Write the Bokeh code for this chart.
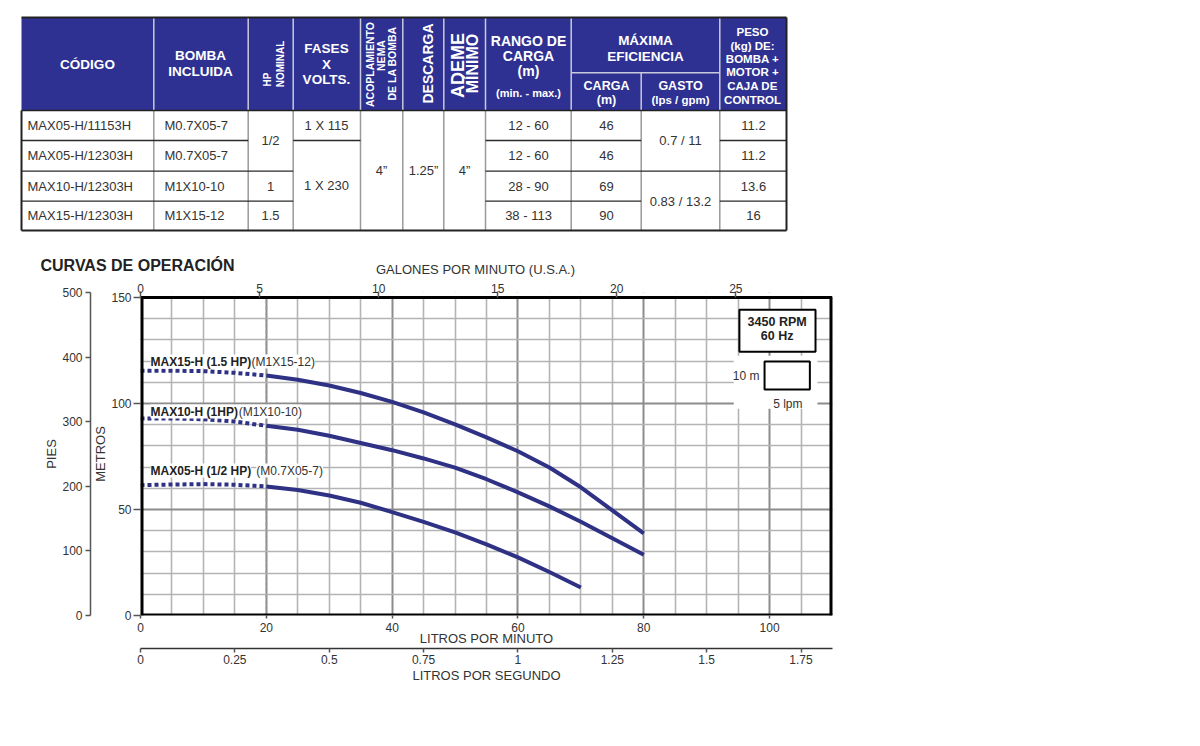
import math
from bokeh.plotting import figure
from bokeh.models import (Range1d, LinearAxis, FixedTicker, Label, BoxAnnotation,
                          NumeralTickFormatter)
from bokeh.embed import file_html
from bokeh.resources import INLINE
from bokeh.core.properties import value

FONT = "Liberation Sans"
NAVY = "#2e3192"
CURVE = "#2e3184"
TXT = "#333333"

# ---------------- table data ----------------
codes = ["MAX05-H/11153H", "MAX05-H/12303H", "MAX10-H/12303H", "MAX15-H/12303H"]
bombas = ["M0.7X05-7", "M0.7X05-7", "M1X10-10", "M1X15-12"]
hp_vals = ["1/2", "1", "1.5"]
fases = ["1 X 115", "1 X 230"]
acople = "4\u201d"
descarga = "1.25\u201d"
ademe = "4\u201d"
rango = ["12 - 60", "12 - 60", "28 - 90", "38 - 113"]
carga = ["46", "46", "69", "90"]
gasto = ["0.7 / 11", "0.83 / 13.2"]
peso = ["11.2", "11.2", "13.6", "16"]

hdr_flat = ["C\u00d3DIGO", "BOMBA", "INCLUIDA", "FASES", "X", "VOLTS.",
            "RANGO DE", "CARGA", "(m)", "(min. - max.)", "M\u00c1XIMA", "EFICIENCIA",
            "CARGA", "(m)", "GASTO", "(lps / gpm)",
            "PESO", "(kg) DE:", "BOMBA +", "MOTOR +", "CAJA DE", "CONTROL"]
hdr_rot = ["HP", "NOMINAL", "ACOPLAMIENTO", "NEMA", "DE LA BOMBA", "DESCARGA",
           "ADEME", "M\u00cdNIMO"]

# ---------------- chart data ----------------
lpm_dot = [0, 5, 10, 15, 20]
max15_dot = [115.5, 115.5, 115.3, 114.5, 113.2]
max10_dot = [93.0, 93.0, 92.6, 91.5, 89.5]
max05_dot = [61.5, 61.8, 62.0, 61.7, 60.9]

lpm15 = [20, 25, 30, 35, 40, 45, 50, 55, 60, 65, 70, 75, 80]
max15 = [113.2, 111.2, 108.5, 105.0, 100.8, 95.8, 90.2, 84.0, 77.5, 69.8, 60.5, 49.6, 38.8]
lpm10 = [20, 25, 30, 35, 40, 45, 50, 55, 60, 65, 70, 75, 80]
max10 = [89.5, 87.6, 84.8, 81.4, 78.0, 74.1, 69.8, 64.3, 58.1, 51.5, 44.2, 36.4, 28.7]
lpm05 = [20, 25, 30, 35, 40, 45, 50, 55, 60, 65, 70]
max05 = [60.9, 59.2, 56.6, 53.2, 48.8, 44.2, 39.2, 33.6, 27.4, 20.5, 13.2]

curve_names = ["MAX15-H (1.5 HP)", "MAX10-H (1HP)", "MAX05-H (1/2 HP)"]
curve_models = ["(M1X15-12)", "(M1X10-10)", "(M0.7X05-7)"]

lpm_ticks = [0, 20, 40, 60, 80, 100]
m_ticks = [0, 50, 100, 150]
gpm_ticks = [0, 5, 10, 15, 20, 25]
ft_ticks = [0, 100, 200, 300, 400, 500]
lps_ticks = [0, 0.25, 0.5, 0.75, 1, 1.25, 1.5, 1.75]

GPM = 3.78541
FT = 3.28084
XMAX = 110
YMAX = 150
YTOP = 500 / FT

# ================= TABLE FIGURE (page pixel coordinates) =================
TW, TH = 840, 278
tf = figure(width=TW, height=TH, x_range=Range1d(0, TW), y_range=Range1d(TH, 0),
            x_axis_location=None, y_axis_location=None, toolbar_location=None,
            output_backend="svg", min_border=0, outline_line_color=None)
tf.grid.visible = False

L, R, T, HB, B = 21, 786, 17, 110, 230
cols = [21, 153.3, 247.7, 292.7, 360, 402.3, 443.3, 485, 570.7, 640.7, 719.3, 786]

tf.quad(left=L, right=R, top=T, bottom=HB, fill_color=NAVY, line_color=None)
hx = cols[1:-1]
hx0 = [x for x in hx if x != 640.7]
tf.segment(x0=hx0, y0=[T] * len(hx0), x1=hx0, y1=[HB] * len(hx0), line_color="#c9cadb", line_width=1.5)
tf.segment(x0=[640.7, 570.7], y0=[72.3, 72.3], x1=[640.7, 719.3], y1=[HB, 72.3],
           line_color="#c9cadb", line_width=1.5)
tf.segment(x0=hx, y0=[HB] * len(hx), x1=hx, y1=[B] * len(hx), line_color="#9a9a9a", line_width=1.5)
seg_x0 = [21, 292.7, 485, 719.3, 21, 485, 21, 485, 719.3]
seg_x1 = [247.7, 360, 640.7, 786, 292.7, 786, 292.7, 640.7, 786]
seg_y = [140, 140, 140, 140, 170.7, 170.7, 200.7, 200.7, 200.7]
tf.segment(x0=seg_x0, y0=seg_y, x1=seg_x1, y1=seg_y, line_color="#2a2a2a", line_width=1.3)
tf.segment(x0=[L, L, R, L], y0=[T, B, T, HB], x1=[R, R, R, L], y1=[T, B, B, B],
           line_color="#222222", line_width=2)
tf.segment(x0=[L], y0=[HB], x1=[R], y1=[HB], line_color="#222222", line_width=1.5)

hf_x = [87, 200, 200, 326, 326, 326, 528, 528, 528, 528, 645, 645, 606, 606, 680, 680,
        752, 752, 752, 752, 752, 752]
hf_y = [64, 55, 71, 48, 63.5, 79, 40, 55, 70, 92, 40, 56, 85, 99, 85, 99,
        31, 45, 58, 71.5, 85, 99]
hf_s = ["13.5px", "13.5px", "13.5px", "13.5px", "13.5px", "13.5px", "14px", "14px", "14px", "11px",
        "13.5px", "13.5px", "12.5px", "12.5px", "12.5px", "11.5px",
        "11.5px", "11.5px", "11.5px", "11.5px", "11.5px", "11.5px"]
tf.text(x=hf_x, y=hf_y, text=hdr_flat, text_font_size=hf_s, text_color="white",
        text_font=value(FONT), text_font_style="bold", text_align="center",
        text_baseline="middle")
hr_x = [267, 280, 369, 380, 391, 427, 457, 472]
hr_y = [79, 63.5, 64, 55, 63, 63, 65, 63]
hr_s = ["10px", "10px", "10.5px", "10.5px", "10.5px", "14px", "18px", "16px"]
tf.text(x=hr_x, y=hr_y, text=hdr_rot, text_font_size=hr_s, text_color="white",
        text_font=value(FONT), text_font_style="bold", text_align="center",
        text_baseline="middle", angle=math.pi / 2)

rc = [125, 155.3, 185.7, 215.3]
tf.text(x=[27] * 4, y=rc, text=codes, text_font=value(FONT), text_font_size="13px",
        text_color=TXT, text_align="left", text_baseline="middle")
tf.text(x=[164] * 4, y=rc, text=bombas, text_font=value(FONT), text_font_size="13px",
        text_color=TXT, text_align="left", text_baseline="middle")
cx = [270, 270, 270, 326, 326, 381, 423, 464] + [528] * 4 + [606] * 4 + [680, 680] + [753] * 4
cy = [140, 185.7, 215.3, 125, 185, 170, 170, 170] + rc + rc + [140, 200.7] + rc
ct = hp_vals + fases + [acople, descarga, ademe] + rango + carga + gasto + peso
tf.text(x=cx, y=cy, text=ct, text_font=value(FONT), text_font_size="13px",
        text_color=TXT, text_align="center", text_baseline="middle")

# chart heading + top-axis title (sit just above the chart figure)
tf.text(x=[40], y=[264.5], text=["CURVAS DE OPERACI\u00d3N"], text_font=value(FONT),
        text_font_size="16px", text_font_style="bold", text_color="#222222",
        text_align="left", text_baseline="middle")
tf.text(x=[475], y=[269], text=["GALONES POR MINUTO (U.S.A.)"], text_font=value(FONT),
        text_font_size="13px", text_color=TXT, text_align="center", text_baseline="middle")

# ================= CHART FIGURE =================
p = figure(frame_width=692, frame_height=323, x_range=Range1d(0, XMAX), y_range=Range1d(0, YTOP),
           min_border_left=140, min_border_top=14, min_border_bottom=85, min_border_right=20,
           toolbar_location=None, output_backend="svg", outline_line_color=None)

p.extra_x_ranges = {"gpm": Range1d(0, XMAX / GPM), "lps": Range1d(0, XMAX / 60)}
p.extra_y_ranges = {"ft": Range1d(0, YTOP * FT)}

def style_axis(ax, label, tick_out, std, lab_std, tick_in=0):
    ax.axis_label = label
    ax.axis_label_text_font = FONT
    ax.axis_label_text_font_size = "13px"
    ax.axis_label_text_font_style = "normal"
    ax.axis_label_text_color = TXT
    ax.axis_label_standoff = lab_std
    ax.major_label_text_font = FONT
    ax.major_label_text_font_size = "12px"
    ax.major_label_text_color = TXT
    ax.major_label_standoff = std
    ax.major_tick_in = tick_in
    ax.major_tick_out = tick_out
    ax.major_tick_line_color = "#555555"
    ax.major_tick_line_width = 1.5
    ax.minor_tick_line_color = None

xa = p.xaxis[0]
xa.ticker = FixedTicker(ticks=lpm_ticks)
style_axis(xa, "LITROS POR MINUTO", 3, 4, -4)
xa.axis_line_color = None

ya = p.yaxis[0]
ya.ticker = FixedTicker(ticks=m_ticks)
style_axis(ya, "METROS", 7, 2, 0)
ya.axis_line_color = None

fa = LinearAxis(y_range_name="ft", ticker=FixedTicker(ticks=ft_ticks))
style_axis(fa, "PIES", 5, 3, 0)
fa.axis_line_color = "#555555"
fa.axis_line_width = 1.5
p.add_layout(fa, "left")

ga = LinearAxis(x_range_name="gpm", ticker=FixedTicker(ticks=gpm_ticks))
style_axis(ga, None, 1, -1, 0, tick_in=5)
ga.axis_line_color = None
p.add_layout(ga, "above")

sa = LinearAxis(x_range_name="lps", ticker=FixedTicker(ticks=lps_ticks),
                formatter=NumeralTickFormatter(format="0.[00]"))
style_axis(sa, "LITROS POR SEGUNDO", 4, 2, 1)
sa.axis_line_color = "#333333"
sa.axis_line_width = 1.5
p.add_layout(sa, "below")

p.xgrid.ticker = FixedTicker(ticks=[20, 40, 60, 80, 100],
                             minor_ticks=[v for v in range(5, XMAX, 5) if v % 20])
p.ygrid.ticker = FixedTicker(ticks=[50, 100],
                             minor_ticks=[v for v in range(10, YMAX, 10) if v % 50])
for g in (p.xgrid, p.ygrid):
    g.grid_line_color = "#8c8c8c"
    g.grid_line_width = 2
    g.minor_grid_line_color = "#b4b4b4"
    g.minor_grid_line_width = 1.6

# hide strip above 150 m and draw the frame border
p.quad(left=0, right=XMAX, bottom=YMAX, top=YTOP, fill_color="white", line_color=None)
p.segment(x0=[20], y0=[0], x1=[20], y1=[YMAX], line_color="#999999", line_dash="3 3", line_width=1.5)

for xd, yd, xs, ys in [(lpm_dot, max15_dot, lpm15, max15),
                       (lpm_dot, max10_dot, lpm10, max10),
                       (lpm_dot, max05_dot, lpm05, max05)]:
    p.line(xd, yd, line_color=CURVE, line_width=4, line_dash="4 3")
    p.line(xs, ys, line_color=CURVE, line_width=4, line_join="round")

p.segment(x0=[0, XMAX], y0=[0, 0], x1=[0, XMAX], y1=[YMAX, YMAX], line_color="black", line_width=6)
p.segment(x0=[0], y0=[0], x1=[XMAX], y1=[0], line_color="black", line_width=4)
p.segment(x0=[0], y0=[YMAX], x1=[XMAX], y1=[YMAX], line_color="black", line_width=3)

lab_y = [119.8, 96.2, 68.4]
mod_x = [17.65, 15.6, 18.4]
for name, mod, yy, mx in zip(curve_names, curve_models, lab_y, mod_x):
    p.add_layout(Label(x=1.6, y=yy, text=name, text_font=FONT, text_font_size="12px",
                       text_font_style="bold", text_color="#222222", text_baseline="middle",
                       background_fill_color="white"))
    p.add_layout(Label(x=mx, y=yy, text=mod, text_font=FONT, text_font_size="12px",
                       text_color=TXT, text_baseline="middle",
                       background_fill_color="white"))

p.add_layout(BoxAnnotation(left=94.3, right=107.6, bottom=97.6, top=122.6,
                           fill_color="white", fill_alpha=1, line_color=None))
p.add_layout(BoxAnnotation(left=95.2, right=107.3, bottom=124.5, top=144.3,
                           fill_color="white", fill_alpha=1, line_color="black",
                           line_alpha=1, line_width=2))
p.add_layout(BoxAnnotation(left=99.2, right=106.4, bottom=106.6, top=119.8,
                           fill_color="white", fill_alpha=1, line_color="black",
                           line_alpha=1, line_width=2))
for txt, yy in [("3450 RPM", 138.7), ("60 Hz", 132.1)]:
    p.add_layout(Label(x=101.2, y=yy, text=txt, text_font=FONT, text_font_size="12.5px",
                       text_font_style="bold", text_color="#222222", text_align="center",
                       text_baseline="middle"))
p.add_layout(Label(x=98.4, y=113.2, text="10 m", text_font=FONT, text_font_size="12px",
                   text_color=TXT, text_align="right", text_baseline="middle"))
p.add_layout(Label(x=102.9, y=100.0, text="5 lpm", text_font=FONT, text_font_size="12px",
                   text_color=TXT, text_align="center", text_baseline="middle"))

open("out.html", "w").write(file_html([tf, p], INLINE))
